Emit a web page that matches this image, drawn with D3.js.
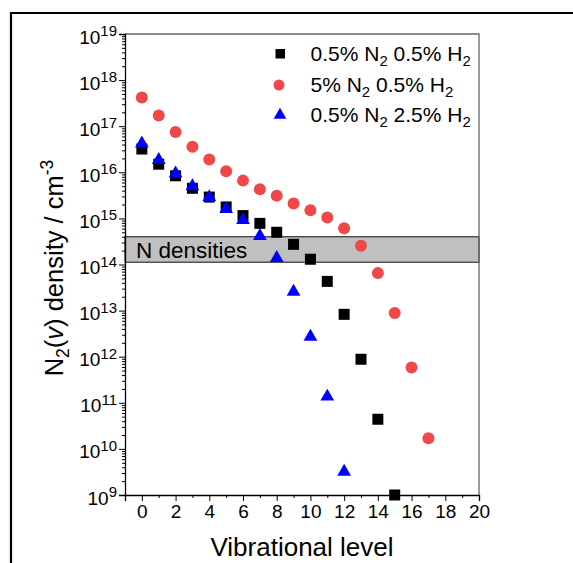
<!DOCTYPE html>
<html><head><meta charset="utf-8">
<script src="https://cdn.jsdelivr.net/npm/d3@7"></script>
<style>body{margin:0;background:#fff}svg{display:block;font-family:"Liberation Sans",Arial,sans-serif}</style>
</head><body>
<svg id="c" width="573" height="563"></svg>
<script>
const levels = [0,1,2,3,4,5,6,7,8,9,10,11,12,13,14,15,16,17];
const seriesA = [3.2e16,1.5e16,8.4e15,4.5e15,2.9e15,1.77e15,1.15e15,7.8e14,5.0e14,2.74e14,1.3e14,4.3e13,8.3e12,8.8e11,4.4e10,1.0e9];
const seriesB = [4.2e17,1.7e17,7.5e16,3.6e16,1.9e16,1.05e16,6.6e15,4.3e15,3.1e15,2.1e15,1.5e15,1.04e15,6.1e14,2.56e14,6.5e13,8.9e12,5.8e11,1.7e10];
const seriesC = [4.2e16,1.85e16,9.5e15,5.0e15,2.9e15,1.6e15,9.2e14,4.15e14,1.38e14,2.57e13,2.7e12,1.36e11,3.2e9];
const bandRange = [1.12e14, 4.0e14];
const bandLabel = "N densities";
const xTicks = [0,2,4,6,8,10,12,14,16,18,20];
const yTickExps = [9,10,11,12,13,14,15,16,17,18,19];
const legendLabels = [["0.5% N","2"," 0.5% H","2"],["5% N","2"," 0.5% H","2"],["0.5% N","2"," 2.5% H","2"]];

const svg = d3.select("#c");
const L=125,R=479,T=34,B=495;
const x = d3.scaleLinear().domain([-1,20]).range([L,R]);
const y = d3.scaleLog().domain([1e9,1e19]).range([B,T]);

// outer frame (page crop)
svg.append("path").attr("d","M11,563V13H573").attr("fill","none").attr("stroke","#000").attr("stroke-width",2.2);

// band
svg.append("rect").attr("x",L).attr("width",R-L)
  .attr("y",y(bandRange[1])).attr("height",y(bandRange[0])-y(bandRange[1]))
  .attr("fill","#c0c0c0").attr("stroke","#333").attr("stroke-width",1.2);
svg.append("text").attr("x",136).attr("y",258).attr("font-size",22.5).text(bandLabel);

// top/right border
svg.append("path").attr("d",`M${L},${T}H${R}V${B}`).attr("fill","none").attr("stroke","#666").attr("stroke-width",1.3);

// x axis
const xa = svg.append("g").attr("transform",`translate(0,${B})`)
  .call(d3.axisBottom(x).tickValues(xTicks).tickSize(6).tickPadding(4).tickFormat(d3.format("d")));
svg.append("g").attr("transform",`translate(0,${B})`)
  .call(d3.axisBottom(x).tickValues(d3.range(1,20,2)).tickSize(3).tickFormat(""))
  .call(g=>g.select(".domain").remove());
// y axis
const ya = svg.append("g").attr("transform",`translate(${L},0)`)
  .call(d3.axisLeft(y).tickValues(yTickExps.map(e=>Math.pow(10,e))).tickSize(6).tickFormat(""));
const minors=[];
yTickExps.slice(0,-1).forEach(e=>{for(let k=2;k<10;k++)minors.push(k*Math.pow(10,e));});
svg.append("g").attr("transform",`translate(${L},0)`)
  .call(d3.axisLeft(y).tickValues(minors).tickSize(3).tickFormat(""))
  .call(g=>g.select(".domain").remove());
svg.selectAll(".domain").attr("stroke","#000").attr("stroke-width",1.3);
svg.selectAll(".tick line").attr("stroke","#000").attr("stroke-width",1);
xa.selectAll(".tick text").attr("font-size",19).attr("fill","#000").attr("font-family","Liberation Sans, Arial, sans-serif");

ya.selectAll(".tick").each(function(d){
  const t=d3.select(this).append("text").attr("x",-8).attr("dy",9).attr("text-anchor","end")
    .attr("font-size",19).attr("fill","#000").attr("font-family","Liberation Sans, Arial, sans-serif");
  t.append("tspan").text("10");
  t.append("tspan").attr("dy",-7.5).attr("font-size",15).text(String(Math.round(Math.log10(d))));
});

// axis titles
svg.append("text").attr("x",(L+R)/2).attr("y",556).attr("text-anchor","middle").attr("font-size",26).text("Vibrational level");
const yt = svg.append("text").attr("transform",`translate(62.5,268) rotate(-90)`).attr("text-anchor","middle").attr("font-size",25.5);
yt.append("tspan").text("N");
yt.append("tspan").attr("dy",6.5).attr("font-size",17.5).text("2");
yt.append("tspan").attr("dy",-6.5).text("(");
yt.append("tspan").attr("font-style","italic").text("v");
yt.append("tspan").text(") density / cm");
yt.append("tspan").attr("dy",-10).attr("font-size",17.5).text("-3");

// markers
const red="#f04848", blue="#0000ff";
svg.append("g").selectAll("rect").data(seriesA).join("rect")
  .attr("x",(d,i)=>x(levels[i])-5.5).attr("y",d=>y(d)-5.5).attr("width",11).attr("height",11).attr("fill","#000");
svg.append("g").selectAll("circle").data(seriesB).join("circle")
  .attr("cx",(d,i)=>x(levels[i])).attr("cy",d=>y(d)).attr("r",6).attr("fill",red);
const tri = d3.symbol().type(d3.symbolTriangle).size(82);
svg.append("g").selectAll("path").data(seriesC).join("path")
  .attr("transform",(d,i)=>`translate(${x(levels[i])},${y(d)})`).attr("d",tri).attr("fill",blue);

// legend
const lg = svg.append("g");
const ly=[53.5,85,115];
lg.append("rect").attr("x",275.5).attr("y",ly[0]-4.5).attr("width",9.5).attr("height",9.5).attr("fill","#000");
lg.append("circle").attr("cx",279).attr("cy",ly[1]).attr("r",5.5).attr("fill",red);
lg.append("path").attr("transform",`translate(280,${ly[2]})`).attr("d",d3.symbol().type(d3.symbolTriangle).size(70)).attr("fill",blue);
legendLabels.forEach((parts,i)=>{
  const t=lg.append("text").attr("x",310.5).attr("y",ly[i]+7).attr("font-size",21);
  t.append("tspan").text(parts[0]);
  t.append("tspan").attr("dy",5).attr("font-size",15).text(parts[1]);
  t.append("tspan").attr("dy",-5).text(parts[2]);
  t.append("tspan").attr("dy",5).attr("font-size",15).text(parts[3]);
});
</script>
</body></html>
